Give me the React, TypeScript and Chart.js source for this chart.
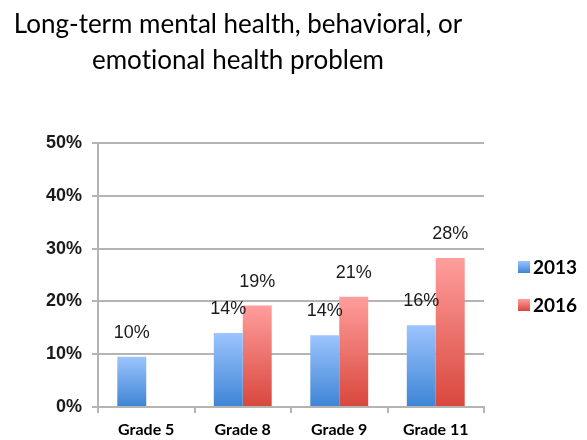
import { useEffect, useRef } from 'react';
import { Chart, registerables } from 'chart.js';

Chart.register(...registerables);

const titleLines = ['Long-term mental health, behavioral, or', 'emotional health problem'];
const categories = ['Grade 5', 'Grade 8', 'Grade 9', 'Grade 11'];
const seriesNames = ['2013', '2016'];
const values2013 = [9.5, 14.0, 13.6, 15.5];
const values2016 = [null, 19.2, 20.9, 28.2];
const labels2013 = ['10%', '14%', '14%', '16%'];
const labels2016 = ['', '19%', '21%', '28%'];
const yMin = 0;
const yMax = 50;
const yStep = 10;

const blueTop = '#9cc4fd';
const blueBottom = '#3d84d5';
const redTop = '#ff9e9c';
const redBottom = '#d8473c';
const gridColor = '#b4b4b4';
const numFont = '"Liberation Sans", Arial, sans-serif';
const calFont = 'Lato, "Open Sans", sans-serif';

function gradientFill(top: string, bottom: string) {
  return (c: any) => {
    const chart = c.chart;
    const y = chart.scales && chart.scales.y;
    if (c.type !== 'data' || !y || c.raw == null) return top;
    const yTop = y.getPixelForValue(c.raw);
    const yBot = y.getPixelForValue(0);
    if (!isFinite(yTop) || !isFinite(yBot) || yTop === yBot) return top;
    const g = chart.ctx.createLinearGradient(0, yTop, 0, yBot);
    g.addColorStop(0, top);
    g.addColorStop(1, bottom);
    return g;
  };
}

const noLigaturePlugin = {
  id: 'noLigatures',
  beforeDraw(chart: any) {
    const ctx: any = chart.ctx;
    try {
      ctx.textRendering = 'optimizeSpeed';
    } catch (e) {
      /* ignore */
    }
  },
};

const dataLabelPlugin = {
  id: 'dataLabels',
  afterDatasetsDraw(chart: any) {
    const ctx = chart.ctx;
    const allLabels = [labels2013, labels2016];
    ctx.save();
    ctx.font = `18px ${numFont}`;
    ctx.fillStyle = '#1a1a1a';
    ctx.textAlign = 'center';
    ctx.textBaseline = 'middle';
    chart.data.datasets.forEach((ds: any, di: number) => {
      const meta = chart.getDatasetMeta(di);
      meta.data.forEach((bar: any, i: number) => {
        if (ds.data[i] == null) return;
        const txt = allLabels[di][i];
        if (!txt) return;
        ctx.fillText(txt, bar.x, bar.y - 24);
      });
    });
    ctx.restore();
  },
};

const legendPlugin = {
  id: 'sideLegend',
  afterDraw(chart: any) {
    const ctx = chart.ctx;
    const area = chart.chartArea;
    const x = area.right + 34;
    const mid = (area.top + area.bottom) / 2;
    const ys = [mid - 8, mid + 30];
    const colors = [[blueTop, blueBottom], [redTop, redBottom]];
    ctx.save();
    ctx.font = `bold 19px ${calFont}`;
    ctx.fillStyle = '#000';
    ctx.textAlign = 'left';
    ctx.textBaseline = 'middle';
    chart.data.datasets.forEach((ds: any, i: number) => {
      const cy = ys[i];
      const g = ctx.createLinearGradient(0, cy - 6, 0, cy + 6);
      g.addColorStop(0, colors[i][0]);
      g.addColorStop(1, colors[i][1]);
      ctx.fillStyle = g;
      ctx.fillRect(x, cy - 6, 12, 12);
      ctx.fillStyle = '#000';
      ctx.fillText(ds.label, x + 15, cy + 1);
    });
    ctx.restore();
  },
};

export default function App() {
  const ref = useRef<HTMLCanvasElement | null>(null);

  useEffect(() => {
    if (!ref.current) return;
    const chart = new Chart(ref.current, {
      type: 'bar',
      data: {
        labels: categories,
        datasets: [
          {
            label: seriesNames[0],
            data: values2013,
            backgroundColor: gradientFill(blueTop, blueBottom),
            borderWidth: 0,
          },
          {
            label: seriesNames[1],
            data: values2016 as any,
            backgroundColor: gradientFill(redTop, redBottom),
            borderWidth: 0,
          },
        ],
      },
      options: {
        responsive: false,
        animation: false,
        devicePixelRatio: 1,
        layout: { padding: { left: -8, right: 103, top: 0, bottom: 0 } },
        datasets: { bar: { categoryPercentage: 0.6, barPercentage: 1.0 } },
        plugins: {
          legend: { display: false },
          tooltip: { enabled: false },
          title: {
            display: true,
            text: titleLines,
            color: '#000',
            font: { family: calFont, size: 26, weight: 'normal', lineHeight: 36 / 26 },
            padding: { top: 7, bottom: 64 },
          },
        },
        scales: {
          x: {
            offset: true,
            grid: {
              display: true,
              drawOnChartArea: false,
              drawTicks: true,
              tickLength: 6,
              color: gridColor,
              lineWidth: 2,
              offset: true,
            },
            border: { display: true, color: gridColor, width: 2 },
            ticks: {
              color: '#000',
              padding: 7,
              font: { family: calFont, size: 16, weight: 'bold' },
            },
            afterFit(scale: any) {
              scale.height = 33;
            },
          },
          y: {
            min: yMin,
            max: yMax,
            ticks: {
              stepSize: yStep,
              color: '#1a1a1a',
              padding: 10,
              font: { family: numFont, size: 18, weight: 'bold' },
              callback: (v: any) => `${v}%`,
            },
            grid: { color: gridColor, lineWidth: 2, tickLength: 6, drawTicks: true },
            border: { display: true, color: gridColor, width: 2 },
            afterFit(scale: any) {
              scale.width = 106;
            },
          },
        },
      },
      plugins: [noLigaturePlugin, dataLabelPlugin, legendPlugin],
    });
    return () => chart.destroy();
  }, []);

  return (
    <div style={{ position: 'fixed', left: 0, top: 0, width: 587, height: 440, background: '#fff' }}>
      <canvas ref={ref} width={587} height={440} />
    </div>
  );
}
